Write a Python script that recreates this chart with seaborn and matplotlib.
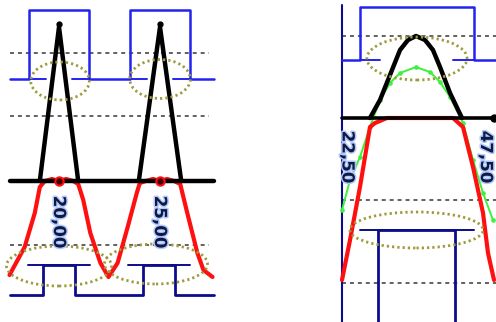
import matplotlib
matplotlib.use("Agg")
import matplotlib.pyplot as plt
import matplotlib.patheffects as pe
from matplotlib.patches import Ellipse
import seaborn as sns

# ---- left panel (time t, level v; black baseline = 0) ----
L_SPAN = [17.55, 27.65]
L_BLUE_T = [17.55, 18.5, 18.5, 21.5, 21.5, 23.5, 23.5, 26.5, 26.5, 27.65]
L_BLUE_V = [10.2, 10.2, 17.1, 17.1, 10.2, 10.2, 17.1, 17.1, 10.2, 10.2]
L_BLUE_STUBS = [(18.5, 19.35), (20.65, 21.5), (23.5, 24.35), (25.65, 26.5)]
L_TRI_T = [[19.05, 20.0, 20.95], [23.95, 25.0, 26.05]]
L_TRI_V = [0.0, 15.4, 0.0]
L_PEAKS = [20.0, 25.0]
L_RED_T = [17.55, 18.3, 18.8, 19.05, 19.3, 19.65, 20.0, 20.35, 20.7, 20.95,
           21.2, 21.55, 22.05, 22.45, 22.9, 23.4, 23.85, 24.0, 24.3, 24.65,
           25.0, 25.35, 25.7, 26.0, 26.35, 26.85, 27.15, 27.6]
L_RED_V = [-9.4, -6.6, -3.2, -0.6, 0.0, 0.2, 0.0, 0.2, 0.0, -0.3,
           -1.9, -5.2, -8.2, -9.6, -8.2, -4.6, -1.2, -0.2, 0.0, 0.2,
           0.0, 0.2, 0.0, -0.3, -3.2, -7.2, -8.9, -9.6]
L_NAVY_T = [17.55, 19.2, 19.2, 20.8, 20.8, 24.15, 24.15, 25.75, 25.75, 27.65]
L_NAVY_V = [-11.4, -11.4, -8.4, -8.4, -11.4, -11.4, -8.4, -8.4, -11.4, -11.4]
L_NAVY_HIGH = [(18.45, 21.55), (23.4, 26.5)]
L_NAVY_HIGH_V = -8.4
L_DASH_V = [12.8, 6.5, -6.4]
L_DASH_SPAN = [17.55, 27.45]
L_ELLIPSES = [(20.05, 10.0, 2.9, 3.8), (25.0, 10.2, 3.0, 3.9),
              (20.0, -8.5, 5.2, 4.0), (24.8, -8.3, 5.1, 4.0)]
L_LABELS = ["20,00", "25,00"]
L_LABEL_V = -4.1

# ---- right panel ----
R_SPAN = [21.63, 48.55]
R_BLUE_T = [21.63, 24.77, 24.77, 44.7, 44.7, 48.55]
R_BLUE_V = [5.8, 5.8, 11.1, 11.1, 5.8, 5.8]
R_BLUE_STUBS = [(24.77, 28.3), (41.0, 44.7)]
R_BLACK_T = [26.52, 28.27, 30.02, 31.77, 33.16, 34.56, 36.14, 37.53, 38.76, 40.51, 42.6]
R_BLACK_V = [0.0, 1.8, 4.3, 6.8, 7.8, 8.2, 7.8, 6.8, 5.1, 2.5, 0.0]
R_GREEN_T = [21.63, 23.03, 24.77, 26.52, 28.27, 30.02, 31.77, 34.56, 37.01,
             38.76, 40.51, 42.78, 44.53, 46.28, 48.02]
R_GREEN_V = [-9.2, -6.2, -3.9, -0.9, 1.8, 3.5, 4.5, 5.1, 4.6,
             3.6, 2.1, -0.5, -4.2, -7.5, -10.2]
R_RED_T = [21.63, 23.03, 24.77, 26.52, 27.4, 29.49, 41.03, 42.78, 44.53, 46.28, 47.15, 48.2]
R_RED_V = [-16.2, -12.2, -6.9, -0.9, -0.5, 0.0, 0.0, -0.9, -4.9, -9.5, -13.5, -16.2]
R_NAVY_T = [27.92, 27.92, 41.38, 41.38]
R_NAVY_V = [-21.0, -11.2, -11.2, -21.0]
R_NAVY_HIGH = (24.77, 44.7)
R_DASH_V = [8.2, -8.2, -16.5]
R_ELLIPSES = [(34.74, 5.95, 17.5, 4.3), (34.65, -11.2, 23.3, 3.6)]
R_LABELS = ["22,50", "47,50"]
R_LABEL_T = [22.6, 46.8]
R_LABEL_V = -3.9

BLUE = "#2323f0"
NAVY = "#0c0c8c"
RED = "#ff1010"
GREEN = "#3cf03c"
GREY = "#555555"
OLIVE = "#9c9c3c"


def trace(ax, t, v, color, lw, ls="-", **kw):
    sns.lineplot(x=list(t), y=list(v), ax=ax, color=color, linewidth=lw,
                 linestyle=ls, sort=False, estimator=None, legend=False, **kw)


def label(ax, x, y, s):
    ax.text(x, y, s, rotation=-90, ha="center", va="center", fontsize=12,
            color="#101a40", zorder=6, fontweight="bold",
            path_effects=[pe.withStroke(linewidth=2.2, foreground="#b0c8ff")])


sns.set_style("white")
fig = plt.figure(figsize=(4.96, 3.22), dpi=100)
axl = fig.add_axes([0, 0, 250 / 496, 1])
axr = fig.add_axes([330 / 496, 0, 166 / 496, 1])

# left
for v in L_DASH_V:
    trace(axl, L_DASH_SPAN, [v, v], GREY, 1.3, (0, (2.2, 2.2)))
trace(axl, L_BLUE_T, L_BLUE_V, BLUE, 1.8)
for a, b in L_BLUE_STUBS:
    trace(axl, [a, b], [L_BLUE_V[0]] * 2, BLUE, 1.4)
trace(axl, L_NAVY_T, L_NAVY_V, NAVY, 2.0)
for a, b in L_NAVY_HIGH:
    trace(axl, [a, b], [L_NAVY_HIGH_V] * 2, NAVY, 1.4)
trace(axl, L_RED_T, L_RED_V, RED, 3.0)
trace(axl, L_SPAN, [0, 0], "black", 3.2)
for tri in L_TRI_T:
    trace(axl, tri, L_TRI_V, "black", 3.2)
axl.plot(L_PEAKS, [15.7] * 2, "o", color="black", ms=3.5, zorder=5)
axl.plot(L_PEAKS, [0, 0], "o", mfc="#400000", mec=RED, mew=1.5, ms=6, zorder=5)
for cx, cy, w, h in L_ELLIPSES:
    axl.add_patch(Ellipse((cx, cy), w, h, fill=False, ec=OLIVE, lw=2.0,
                          ls=(0, (0.8, 1.1)), zorder=4))
for x, s in zip(L_PEAKS, L_LABELS):
    label(axl, x, L_LABEL_V, s)
axl.set_xlim(17.079, 29.455)
axl.set_ylim(-14.1, 18.1)

# right
for v in R_DASH_V:
    trace(axr, R_SPAN, [v, v], GREY, 1.3, (0, (2.2, 2.2)))
trace(axr, [R_SPAN[0]] * 2, [-21, 11.3], NAVY, 1.5)
trace(axr, R_BLUE_T, R_BLUE_V, BLUE, 1.8)
for a, b in R_BLUE_STUBS:
    trace(axr, [a, b], [R_BLUE_V[0]] * 2, BLUE, 1.4)
trace(axr, R_NAVY_T, R_NAVY_V, NAVY, 2.0)
trace(axr, R_NAVY_HIGH, [-11.2, -11.2], NAVY, 1.4)
trace(axr, R_GREEN_T, R_GREEN_V, GREEN, 1.4, marker="o", markersize=2.5, mec=GREEN)
trace(axr, R_RED_T, R_RED_V, RED, 3.0)
trace(axr, R_SPAN, [0, 0], "black", 2.6)
trace(axr, R_BLACK_T, R_BLACK_V, "black", 3.2)
axr.plot([R_SPAN[1] - 0.3], [0], "o", color="black", ms=5, zorder=5)
for cx, cy, w, h in R_ELLIPSES:
    axr.add_patch(Ellipse((cx, cy), w, h, fill=False, ec=OLIVE, lw=2.0,
                          ls=(0, (0.8, 1.1)), zorder=4))
for x, s in zip(R_LABEL_T, R_LABELS):
    label(axr, x, R_LABEL_V, s)
axr.set_xlim(19.53, 48.55)
axr.set_ylim(-20.4, 11.8)

for ax in (axl, axr):
    ax.set_axis_off()

fig.savefig("out.png", dpi=100)
